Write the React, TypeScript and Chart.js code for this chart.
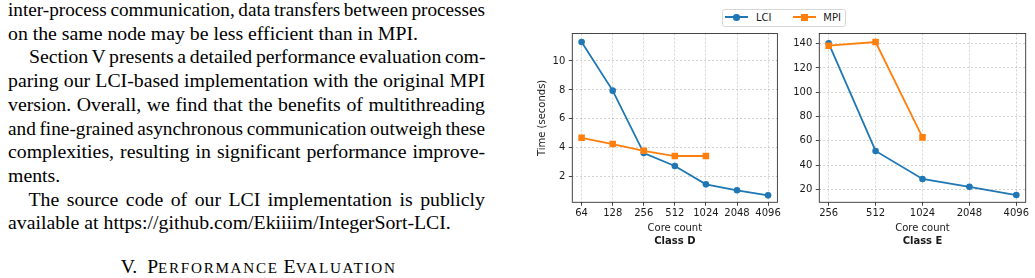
import React, { useEffect, useLayoutEffect, useRef } from 'react';
import { Chart, registerables } from 'chart.js';

Chart.register(...registerables);

// ---------- data ----------
const seriesNames = ['LCI', 'MPI'];
const xTitle = 'Core count';
const yTitle = 'Time (seconds)';

const coresD = ['64', '128', '256', '512', '1024', '2048', '4096'];
const lciD = [11.31, 7.95, 3.63, 2.74, 1.47, 1.06, 0.71];
const mpiD = [4.69, 4.26, 3.79, 3.43, 3.43];
const yTicksD = [2, 4, 6, 8, 10];

const coresE = ['256', '512', '1024', '2048', '4096'];
const lciE = [140.3, 51.6, 28.5, 22.1, 15.3];
const mpiE = [138.4, 141.4, 62.8];
const yTicksE = [20, 40, 60, 80, 100, 120, 140];

const panelTitles = ['Class D', 'Class E'];

const paragraphLines = [
  { text: 'inter-process communication, data transfers between processes', justify: true, indent: false },
  { text: 'on the same node may be less efficient than in MPI.', justify: false, indent: false },
  { text: 'Section V presents a detailed performance evaluation com-', justify: true, indent: true },
  { text: 'paring our LCI-based implementation with the original MPI', justify: true, indent: false },
  { text: 'version. Overall, we find that the benefits of multithreading', justify: true, indent: false },
  { text: 'and fine-grained asynchronous communication outweigh these', justify: true, indent: false },
  { text: 'complexities, resulting in significant performance improve-', justify: true, indent: false },
  { text: 'ments.', justify: false, indent: false },
  { text: 'The source code of our LCI implementation is publicly', justify: true, indent: true },
  { text: 'available at https://github.com/Ekiiiim/IntegerSort-LCI.', justify: false, indent: false },
];

// ---------- styles ----------
const BLUE = '#1f77b4';
const ORANGE = '#ff7f0e';
const SANS = "'DejaVu Sans', sans-serif";
const SERIF = "'Liberation Serif', 'Times New Roman', serif";
const TEXT = '#1a1a1a';
const COL_W = 477;
const INDENT = 20.5;

type PanelProps = {
  left: number;
  width: number;
  yAxisWidth: number;
  padRight: number;
  labels: string[];
  lci: number[];
  mpi: number[];
  yTicks: number[];
  yMin: number;
  yMax: number;
  title: string;
  showYTitle: boolean;
};

function Panel(p: PanelProps) {
  const ref = useRef<HTMLCanvasElement | null>(null);
  useEffect(() => {
    if (!ref.current) return;
    const n = p.labels.length;
    const m = 0.05 * (n - 1);
    const frame = {
      id: 'frame',
      afterDraw(chart: any) {
        const { ctx, chartArea: a } = chart;
        ctx.save();
        ctx.strokeStyle = '#333';
        ctx.lineWidth = 0.9;
        ctx.strokeRect(a.left, a.top, a.right - a.left, a.bottom - a.top);
        ctx.restore();
      },
    };
    const font = { family: SANS, size: 10 };
    const grid = {
      color: 'rgba(0,0,0,0.22)',
      lineWidth: 0.8,
      tickLength: 3.5,
      tickColor: '#333',
      tickWidth: 0.9,
      tickBorderDash: [],
    };
    const chart = new Chart(ref.current, {
      type: 'line',
      data: {
        datasets: [
          {
            label: seriesNames[0],
            data: p.lci.map((y, i) => ({ x: i, y })),
            borderColor: BLUE,
            backgroundColor: BLUE,
            borderWidth: 1.8,
            pointStyle: 'circle',
            pointRadius: 3.3,
            pointBorderWidth: 0,
            pointBackgroundColor: BLUE,
            order: 1,
          },
          {
            label: seriesNames[1],
            data: p.mpi.map((y, i) => ({ x: i, y })),
            borderColor: ORANGE,
            backgroundColor: ORANGE,
            borderWidth: 1.8,
            pointStyle: 'rect',
            pointRadius: 4.6,
            pointBorderWidth: 0,
            pointBackgroundColor: ORANGE,
            order: 0,
          },
        ],
      },
      options: {
        animation: false,
        responsive: false,
        devicePixelRatio: 1,
        layout: { padding: { left: 0, right: p.padRight, top: 33.5, bottom: 30.3 } },
        plugins: {
          legend: { display: false },
          tooltip: { enabled: false },
          title: {
            display: true,
            text: p.title,
            position: 'bottom',
            fullSize: false,
            padding: 0,
            color: TEXT,
            font: { family: SANS, size: 10, weight: 'bold' },
          },
        },
        scales: {
          x: {
            type: 'linear',
            min: -m,
            max: n - 1 + m,
            afterBuildTicks: (s: any) => {
              s.ticks = p.labels.map((_, i) => ({ value: i }));
            },
            afterFit: (s: any) => {
              s.height = 33.4;
              s.paddingLeft = 0;
              s.paddingRight = 0;
              s.paddingTop = 0;
              s.paddingBottom = 0;
            },
            ticks: {
              callback: (v: any) => p.labels[v as number],
              padding: 1.8,
              color: TEXT,
              font,
              maxRotation: 0,
              autoSkip: false,
            },
            grid,
            border: { display: false, dash: [2, 2] },
            title: {
              display: true,
              text: xTitle,
              color: TEXT,
              font,
              padding: { top: 0, bottom: 1.4 },
            },
          },
          y: {
            type: 'linear',
            min: p.yMin,
            max: p.yMax,
            afterBuildTicks: (s: any) => {
              s.ticks = p.yTicks.map((v) => ({ value: v }));
            },
            afterFit: (s: any) => {
              s.width = p.yAxisWidth;
              s.paddingLeft = 0;
              s.paddingRight = 0;
              s.paddingTop = 0;
              s.paddingBottom = 0;
            },
            ticks: {
              callback: (v: any) => String(v),
              padding: 3.5,
              color: TEXT,
              font,
              autoSkip: false,
            },
            grid,
            border: { display: false, dash: [2, 2] },
            title: {
              display: p.showYTitle,
              text: yTitle,
              color: TEXT,
              font,
              padding: { top: 6.7, bottom: 0 },
            },
          },
        },
      } as any,
      plugins: [frame],
    });
    return () => chart.destroy();
  }, []);
  return (
    <canvas
      ref={ref}
      width={p.width}
      height={278}
      style={{ position: 'absolute', left: p.left, top: 0, width: p.width, height: 278 }}
    />
  );
}

function Legend() {
  const textStyle: React.CSSProperties = {
    position: 'absolute',
    top: 11.5,
    fontFamily: SANS,
    fontSize: 10,
    lineHeight: '12px',
    color: TEXT,
    whiteSpace: 'nowrap',
  };
  const line = (x1: number, x2: number, c: string): React.CSSProperties => ({
    position: 'absolute',
    left: x1,
    top: 16.4,
    width: x2 - x1,
    height: 1.8,
    background: c,
  });
  return (
    <>
      <div
        style={{
          position: 'absolute',
          left: 721.7,
          top: 9.3,
          width: 124,
          height: 17.4,
          boxSizing: 'border-box',
          border: '1px solid #d6d6d6',
          borderRadius: 2.5,
          background: '#fff',
        }}
      />
      <div style={line(725, 748.3, BLUE)} />
      <div
        style={{ position: 'absolute', left: 736.7 - 3.3, top: 17.3 - 3.3, width: 6.6, height: 6.6, borderRadius: '50%', background: BLUE }}
      />
      <div style={{ ...textStyle, left: 756 }}>{seriesNames[0]}</div>
      <div style={line(792.7, 816, ORANGE)} />
      <div style={{ position: 'absolute', left: 804.3 - 3.25, top: 17.3 - 3.25, width: 6.5, height: 6.5, background: ORANGE }} />
      <div style={{ ...textStyle, left: 823.3 }}>{seriesNames[1]}</div>
    </>
  );
}

function TextLine(props: { text: string; justify: boolean; indent: boolean }) {
  const ref = useRef<HTMLSpanElement | null>(null);
  useLayoutEffect(() => {
    const fit = () => {
      const el = ref.current;
      if (!el || !props.justify) return;
      el.style.wordSpacing = '0px';
      el.style.transform = 'none';
      const w = el.getBoundingClientRect().width;
      const spaces = (props.text.match(/ /g) || []).length;
      const avail = COL_W - (props.indent ? INDENT : 0);
      const minSpace = -1.2;
      const ws = spaces > 0 ? (avail - w) / spaces : 0;
      if (ws >= minSpace) {
        el.style.wordSpacing = `${ws}px`;
      } else {
        el.style.wordSpacing = `${minSpace}px`;
        const w2 = el.getBoundingClientRect().width;
        el.style.transform = `scaleX(${avail / w2})`;
      }
    };
    fit();
    if ((document as any).fonts && (document as any).fonts.ready) {
      (document as any).fonts.ready.then(fit);
    }
  }, []);
  return (
    <div style={{ whiteSpace: 'nowrap', paddingLeft: props.indent ? INDENT : 0, height: 23.7 }}>
      <span ref={ref} style={{ display: 'inline-block', transformOrigin: '0 0' }}>
        {props.text}
      </span>
    </div>
  );
}

function PaperText() {
  const sc: React.CSSProperties = { fontSize: '0.77em', letterSpacing: 1.7 };
  return (
    <>
      <div
        style={{
          position: 'absolute',
          left: 8,
          top: -1.9,
          width: COL_W,
          fontFamily: SERIF,
          fontSize: 19.8,
          lineHeight: '23.7px',
          color: '#000',
        }}
      >
        {paragraphLines.map((l, i) => (
          <TextLine key={i} text={l.text} justify={l.justify} indent={l.indent} />
        ))}
      </div>
      <div
        style={{
          position: 'absolute',
          left: 120.7,
          top: 254.6,
          fontFamily: SERIF,
          fontSize: 19.7,
          lineHeight: '22px',
          color: '#000',
          whiteSpace: 'nowrap',
        }}
      >
        V.&nbsp;&nbsp;P<span style={sc}>ERFORMANCE</span> E<span style={sc}>VALUATION</span>
      </div>
    </>
  );
}

export default function App() {
  return (
    <div style={{ position: 'absolute', left: 0, top: 0, width: 1035, height: 278, overflow: 'hidden', background: '#fff' }}>
      <PaperText />
      <Panel
        left={530}
        width={252}
        yAxisWidth={42.3}
        padRight={3.7}
        labels={coresD}
        lci={lciD}
        mpi={mpiD}
        yTicks={yTicksD}
        yMin={0.23}
        yMax={11.9}
        title={panelTitles[0]}
        showYTitle={true}
      />
      <Panel
        left={782}
        width={253}
        yAxisWidth={37.3}
        padRight={9.3}
        labels={coresE}
        lci={lciE}
        mpi={mpiE}
        yTicks={yTicksE}
        yMin={9.3}
        yMax={148.4}
        title={panelTitles[1]}
        showYTitle={false}
      />
      <Legend />
    </div>
  );
}
